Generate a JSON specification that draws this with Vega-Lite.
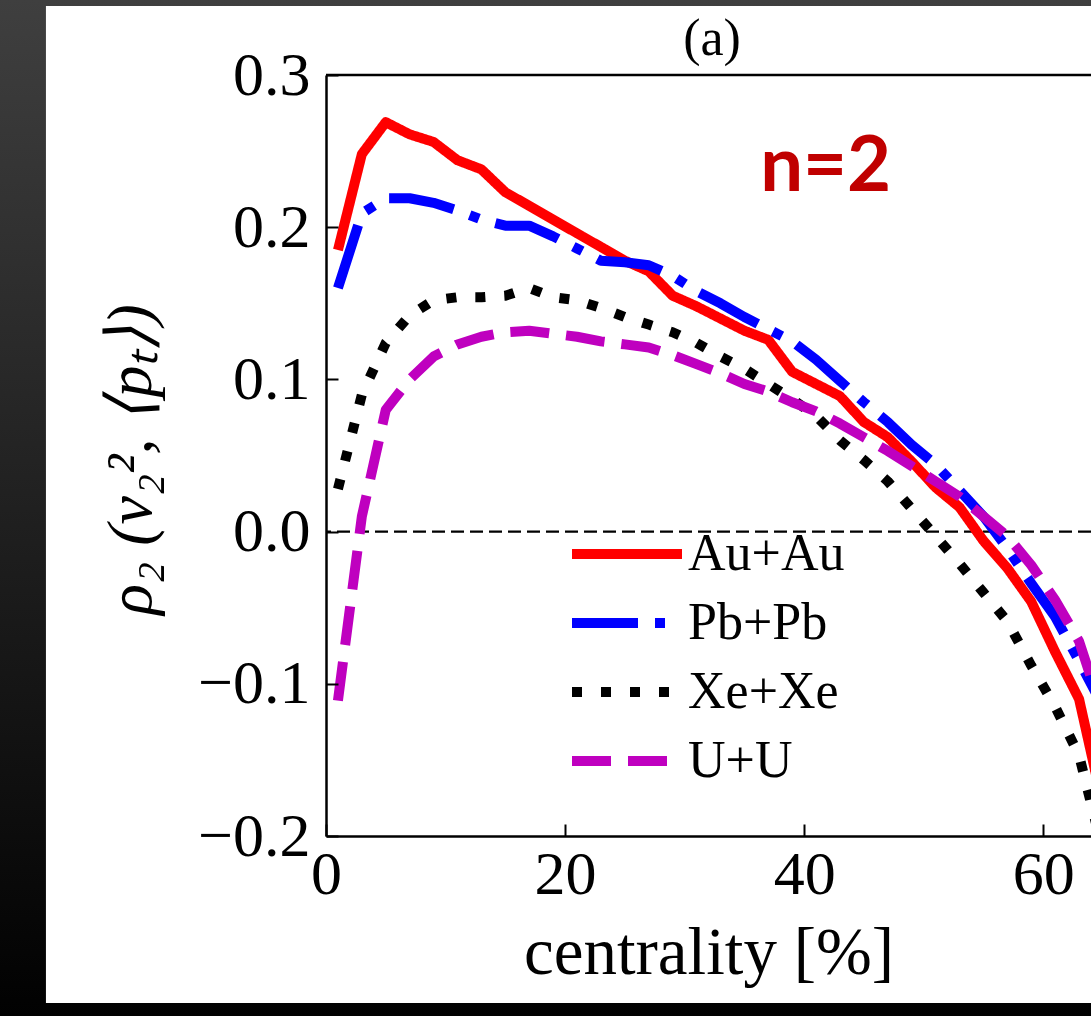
{
  "$schema": "https://vega.github.io/schema/vega-lite/v6.json",
  "autosize": {"type": "none"},
  "padding": {"left": 326, "top": 75, "right": 0, "bottom": 180},
  "width": 765,
  "height": 761,
  "background": "#1a1a1a",
  "config": {
    "view": {"stroke": null},
    "font": "Liberation Serif"
  },
  "layer": [
    {
      "data": {"values": [{}]},
      "mark": {"type": "rect", "clip": false, "fill": {"gradient": "linear", "x1": 0, "y1": 0, "x2": 0, "y2": 1, "stops": [{"offset": 0, "color": "#404040"}, {"offset": 1, "color": "#000000"}]}},
      "encoding": {
        "x": {"datum": -27.6},
        "x2": {"datum": 64.6},
        "y": {"datum": 0.36},
        "y2": {"datum": -0.33}
      }
    },
    {
      "data": {"values": [{}]},
      "mark": {"type": "rect", "clip": false, "fill": "#ffffff"},
      "encoding": {
        "x": {"datum": -23.43},
        "x2": {"datum": 64.6},
        "y": {"datum": 0.3453},
        "y2": {"datum": -0.3097}
      }
    },
    {
      "data": {"values": [{}]},
      "mark": {"type": "rule", "color": "black", "strokeWidth": 2.2, "strokeDash": [13, 6]},
      "encoding": {"y": {"datum": 0}}
    },
    {
      "data": {
        "values": [
          {"c": 1, "v": 0.185, "s": "Au+Au"}, {"c": 3, "v": 0.248, "s": "Au+Au"}, {"c": 5, "v": 0.269, "s": "Au+Au"}, {"c": 7, "v": 0.261, "s": "Au+Au"}, {"c": 9, "v": 0.256, "s": "Au+Au"}, {"c": 11, "v": 0.244, "s": "Au+Au"}, {"c": 13, "v": 0.238, "s": "Au+Au"}, {"c": 15, "v": 0.223, "s": "Au+Au"}, {"c": 17, "v": 0.214, "s": "Au+Au"}, {"c": 19, "v": 0.205, "s": "Au+Au"}, {"c": 21, "v": 0.196, "s": "Au+Au"}, {"c": 23, "v": 0.187, "s": "Au+Au"}, {"c": 25, "v": 0.178, "s": "Au+Au"}, {"c": 27, "v": 0.171, "s": "Au+Au"}, {"c": 29, "v": 0.155, "s": "Au+Au"}, {"c": 31, "v": 0.148, "s": "Au+Au"}, {"c": 33, "v": 0.140, "s": "Au+Au"}, {"c": 35, "v": 0.132, "s": "Au+Au"}, {"c": 37, "v": 0.126, "s": "Au+Au"}, {"c": 39, "v": 0.105, "s": "Au+Au"}, {"c": 41, "v": 0.097, "s": "Au+Au"}, {"c": 43, "v": 0.089, "s": "Au+Au"}, {"c": 45, "v": 0.072, "s": "Au+Au"}, {"c": 47, "v": 0.062, "s": "Au+Au"}, {"c": 49, "v": 0.046, "s": "Au+Au"}, {"c": 51, "v": 0.029, "s": "Au+Au"}, {"c": 53, "v": 0.016, "s": "Au+Au"}, {"c": 55, "v": -0.006, "s": "Au+Au"}, {"c": 57, "v": -0.024, "s": "Au+Au"}, {"c": 59, "v": -0.046, "s": "Au+Au"}, {"c": 61, "v": -0.079, "s": "Au+Au"}, {"c": 63, "v": -0.110, "s": "Au+Au"}, {"c": 65, "v": -0.180, "s": "Au+Au"},
          {"c": 1, "v": 0.160, "s": "Pb+Pb"}, {"c": 3, "v": 0.209, "s": "Pb+Pb"}, {"c": 5, "v": 0.219, "s": "Pb+Pb"}, {"c": 7, "v": 0.219, "s": "Pb+Pb"}, {"c": 9, "v": 0.216, "s": "Pb+Pb"}, {"c": 11, "v": 0.211, "s": "Pb+Pb"}, {"c": 13, "v": 0.205, "s": "Pb+Pb"}, {"c": 15, "v": 0.201, "s": "Pb+Pb"}, {"c": 17, "v": 0.201, "s": "Pb+Pb"}, {"c": 19, "v": 0.194, "s": "Pb+Pb"}, {"c": 21, "v": 0.186, "s": "Pb+Pb"}, {"c": 23, "v": 0.178, "s": "Pb+Pb"}, {"c": 25, "v": 0.177, "s": "Pb+Pb"}, {"c": 27, "v": 0.175, "s": "Pb+Pb"}, {"c": 29, "v": 0.168, "s": "Pb+Pb"}, {"c": 31, "v": 0.158, "s": "Pb+Pb"}, {"c": 33, "v": 0.150, "s": "Pb+Pb"}, {"c": 35, "v": 0.141, "s": "Pb+Pb"}, {"c": 37, "v": 0.133, "s": "Pb+Pb"}, {"c": 39, "v": 0.125, "s": "Pb+Pb"}, {"c": 41, "v": 0.113, "s": "Pb+Pb"}, {"c": 43, "v": 0.099, "s": "Pb+Pb"}, {"c": 45, "v": 0.085, "s": "Pb+Pb"}, {"c": 47, "v": 0.072, "s": "Pb+Pb"}, {"c": 49, "v": 0.057, "s": "Pb+Pb"}, {"c": 51, "v": 0.044, "s": "Pb+Pb"}, {"c": 53, "v": 0.027, "s": "Pb+Pb"}, {"c": 55, "v": 0.010, "s": "Pb+Pb"}, {"c": 57, "v": -0.011, "s": "Pb+Pb"}, {"c": 59, "v": -0.034, "s": "Pb+Pb"}, {"c": 61, "v": -0.056, "s": "Pb+Pb"}, {"c": 63, "v": -0.085, "s": "Pb+Pb"}, {"c": 65, "v": -0.115, "s": "Pb+Pb"},
          {"c": 1, "v": 0.028, "s": "Xe+Xe"}, {"c": 3, "v": 0.090, "s": "Xe+Xe"}, {"c": 5, "v": 0.124, "s": "Xe+Xe"}, {"c": 7, "v": 0.142, "s": "Xe+Xe"}, {"c": 9, "v": 0.152, "s": "Xe+Xe"}, {"c": 11, "v": 0.154, "s": "Xe+Xe"}, {"c": 13, "v": 0.154, "s": "Xe+Xe"}, {"c": 15, "v": 0.155, "s": "Xe+Xe"}, {"c": 17, "v": 0.160, "s": "Xe+Xe"}, {"c": 19, "v": 0.154, "s": "Xe+Xe"}, {"c": 21, "v": 0.152, "s": "Xe+Xe"}, {"c": 23, "v": 0.147, "s": "Xe+Xe"}, {"c": 25, "v": 0.141, "s": "Xe+Xe"}, {"c": 27, "v": 0.136, "s": "Xe+Xe"}, {"c": 29, "v": 0.131, "s": "Xe+Xe"}, {"c": 31, "v": 0.124, "s": "Xe+Xe"}, {"c": 33, "v": 0.115, "s": "Xe+Xe"}, {"c": 35, "v": 0.107, "s": "Xe+Xe"}, {"c": 37, "v": 0.097, "s": "Xe+Xe"}, {"c": 39, "v": 0.087, "s": "Xe+Xe"}, {"c": 41, "v": 0.076, "s": "Xe+Xe"}, {"c": 43, "v": 0.060, "s": "Xe+Xe"}, {"c": 45, "v": 0.047, "s": "Xe+Xe"}, {"c": 47, "v": 0.033, "s": "Xe+Xe"}, {"c": 49, "v": 0.015, "s": "Xe+Xe"}, {"c": 51, "v": -0.003, "s": "Xe+Xe"}, {"c": 53, "v": -0.021, "s": "Xe+Xe"}, {"c": 55, "v": -0.040, "s": "Xe+Xe"}, {"c": 57, "v": -0.059, "s": "Xe+Xe"}, {"c": 59, "v": -0.088, "s": "Xe+Xe"}, {"c": 61, "v": -0.115, "s": "Xe+Xe"}, {"c": 63, "v": -0.147, "s": "Xe+Xe"}, {"c": 65, "v": -0.210, "s": "Xe+Xe"},
          {"c": 1, "v": -0.111, "s": "U+U"}, {"c": 3, "v": 0.010, "s": "U+U"}, {"c": 5, "v": 0.080, "s": "U+U"}, {"c": 7, "v": 0.100, "s": "U+U"}, {"c": 9, "v": 0.115, "s": "U+U"}, {"c": 11, "v": 0.123, "s": "U+U"}, {"c": 13, "v": 0.128, "s": "U+U"}, {"c": 15, "v": 0.131, "s": "U+U"}, {"c": 17, "v": 0.132, "s": "U+U"}, {"c": 19, "v": 0.130, "s": "U+U"}, {"c": 21, "v": 0.128, "s": "U+U"}, {"c": 23, "v": 0.125, "s": "U+U"}, {"c": 25, "v": 0.123, "s": "U+U"}, {"c": 27, "v": 0.121, "s": "U+U"}, {"c": 29, "v": 0.116, "s": "U+U"}, {"c": 31, "v": 0.110, "s": "U+U"}, {"c": 33, "v": 0.104, "s": "U+U"}, {"c": 35, "v": 0.097, "s": "U+U"}, {"c": 37, "v": 0.092, "s": "U+U"}, {"c": 39, "v": 0.085, "s": "U+U"}, {"c": 41, "v": 0.079, "s": "U+U"}, {"c": 43, "v": 0.071, "s": "U+U"}, {"c": 45, "v": 0.062, "s": "U+U"}, {"c": 47, "v": 0.053, "s": "U+U"}, {"c": 49, "v": 0.043, "s": "U+U"}, {"c": 51, "v": 0.033, "s": "U+U"}, {"c": 53, "v": 0.023, "s": "U+U"}, {"c": 55, "v": 0.010, "s": "U+U"}, {"c": 57, "v": -0.003, "s": "U+U"}, {"c": 59, "v": -0.022, "s": "U+U"}, {"c": 61, "v": -0.045, "s": "U+U"}, {"c": 63, "v": -0.072, "s": "U+U"}, {"c": 65, "v": -0.120, "s": "U+U"}
        ]
      },
      "mark": {"type": "line", "clip": true, "strokeWidth": 10, "strokeJoin": "round"},
      "encoding": {
        "x": {
          "field": "c", "type": "quantitative", "title": "centrality [%]",
          "scale": {"domain": [0, 64], "nice": false, "zero": false},
          "axis": {
            "values": [0, 20, 40, 60], "format": "d", "zindex": 1,
            "domainColor": "black", "domainWidth": 2.5,
            "tickColor": "black", "tickWidth": 2, "tickSize": -12,
            "labelFont": "Liberation Serif", "labelFontSize": 62, "labelColor": "black",
            "labelBaseline": "alphabetic", "labelPadding": 69, "labelFlush": false, "labelOverlap": false,
            "titleFont": "Liberation Serif", "titleFontSize": 67, "titleFontWeight": "normal", "titleColor": "black",
            "titleBaseline": "alphabetic", "titleY": 137, "grid": false
          }
        },
        "y": {
          "field": "v", "type": "quantitative", "title": "ρ₂ (v₂², ⟨pₜ⟩)",
          "scale": {"domain": [-0.2, 0.3], "nice": false, "zero": false},
          "axis": {
            "values": [-0.2, -0.1, 0, 0.1, 0.2, 0.3], "format": ".1f", "zindex": 1,
            "domainColor": "black", "domainWidth": 2.5,
            "tickColor": "black", "tickWidth": 2, "tickSize": -12,
            "labelFont": "Liberation Serif", "labelFontSize": 62, "labelColor": "black",
            "labelPadding": 28, "labelFlush": false, "labelOverlap": false,
            "titleFont": "Liberation Serif", "titleFontSize": 64, "titleFontWeight": "normal", "titleFontStyle": "italic", "titleColor": "black",
            "titleBaseline": "alphabetic", "titleAngle": -90, "titleX": -176, "titleY": 384, "grid": false
          }
        },
        "color": {
          "field": "s", "type": "nominal", "title": null,
          "scale": {"domain": ["Au+Au", "Pb+Pb", "Xe+Xe", "U+U"], "range": ["#ff0000", "#0000ff", "#000000", "#bf00bf"]},
          "legend": {
            "orient": "none", "legendX": 275, "legendY": 453, "zindex": 1,
            "symbolType": "M-11,0H11", "symbolSize": 100, "symbolStrokeWidth": 10,
            "labelFont": "Liberation Serif", "labelFontSize": 52, "labelColor": "black", "labelOffset": 35,
            "padding": 0, "rowPadding": 17
          }
        },
        "strokeDash": {
          "field": "s", "type": "nominal", "title": null,
          "scale": {"domain": ["Au+Au", "Pb+Pb", "Xe+Xe", "U+U"], "range": [[1, 0], [66, 17, 10, 17], [10, 19], [39, 17]]}
        }
      }
    },
    {
      "data": {"values": [{}]},
      "mark": {"type": "rule", "color": "black", "strokeWidth": 2.5},
      "encoding": {"y": {"datum": 0.3}}
    },
    {
      "data": {"values": [{}]},
      "mark": {"type": "text", "clip": false, "font": "Liberation Serif", "fontSize": 52, "color": "black", "align": "center", "baseline": "alphabetic"},
      "encoding": {"x": {"datum": 32.3}, "y": {"datum": 0.3131}, "text": {"value": "(a)"}}
    },
    {
      "data": {"values": [{}]},
      "mark": {"type": "text", "font": "Lato", "fontWeight": "bold", "fontSize": 76, "color": "#c00000", "align": "center", "baseline": "alphabetic"},
      "encoding": {"x": {"datum": 41.8}, "y": {"datum": 0.224}, "text": {"value": "n=2"}}
    }
  ]
}
